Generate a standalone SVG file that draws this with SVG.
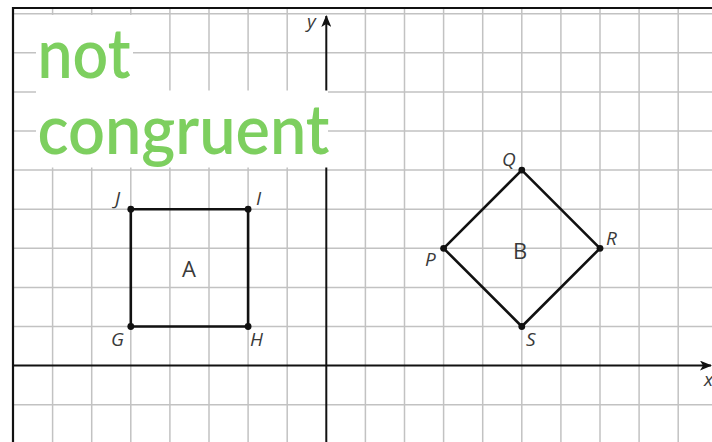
<svg xmlns="http://www.w3.org/2000/svg" width="712" height="442" viewBox="0 0 712 442">
  <style>
    .grid line { stroke: #c2c2c2; stroke-width: 1.5; }
    .axis { stroke: #111; stroke-width: 2; fill: none; }
    .shape { stroke: #111; stroke-width: 2.6; fill: none; stroke-linejoin: round; }
    .dot { fill: #111; }
    .vlabel { font-family: "Open Sans", "DejaVu Sans", sans-serif; font-style: italic; font-size: 19px; fill: #3a3a3a; }
    .flabel { font-family: "Open Sans", "DejaVu Sans", sans-serif; font-size: 22px; fill: #3a3a3a; }
    .note { font-family: Lato, "Open Sans", sans-serif; font-size: 70px; font-weight: 600; fill: #7dcf5f; }
  </style>
  <defs>
    <marker id="arrow" viewBox="0 0 12 10" refX="11" refY="5" markerWidth="12" markerHeight="10" markerUnits="userSpaceOnUse" orient="auto">
      <path d="M0,0 L12,5 L0,10 L3,5 Z" fill="#111"/>
    </marker>
  </defs>
  <rect x="0" y="0" width="712" height="442" fill="#fff"/>
  <g class="grid" id="grid">
    <line x1="52.6" y1="8" x2="52.6" y2="442"/>
    <line x1="91.7" y1="8" x2="91.7" y2="442"/>
    <line x1="130.8" y1="8" x2="130.8" y2="442"/>
    <line x1="169.9" y1="8" x2="169.9" y2="442"/>
    <line x1="209" y1="8" x2="209" y2="442"/>
    <line x1="248.1" y1="8" x2="248.1" y2="442"/>
    <line x1="287.2" y1="8" x2="287.2" y2="442"/>
    <line x1="365.4" y1="8" x2="365.4" y2="442"/>
    <line x1="404.5" y1="8" x2="404.5" y2="442"/>
    <line x1="443.6" y1="8" x2="443.6" y2="442"/>
    <line x1="482.7" y1="8" x2="482.7" y2="442"/>
    <line x1="521.8" y1="8" x2="521.8" y2="442"/>
    <line x1="560.9" y1="8" x2="560.9" y2="442"/>
    <line x1="600" y1="8" x2="600" y2="442"/>
    <line x1="639.1" y1="8" x2="639.1" y2="442"/>
    <line x1="678.2" y1="8" x2="678.2" y2="442"/>
    <line x1="13" y1="13.7" x2="712" y2="13.7"/>
    <line x1="13" y1="52.8" x2="712" y2="52.8"/>
    <line x1="13" y1="91.9" x2="712" y2="91.9"/>
    <line x1="13" y1="131" x2="712" y2="131"/>
    <line x1="13" y1="170.1" x2="712" y2="170.1"/>
    <line x1="13" y1="209.2" x2="712" y2="209.2"/>
    <line x1="13" y1="248.3" x2="712" y2="248.3"/>
    <line x1="13" y1="287.4" x2="712" y2="287.4"/>
    <line x1="13" y1="326.5" x2="712" y2="326.5"/>
    <line x1="13" y1="404.7" x2="712" y2="404.7"/>
  </g>
  <g id="frame">
    <path d="M13,442 L13,8 L712,8" fill="none" stroke="#111" stroke-width="2.2"/>
  </g>
  <g id="connectors">
    <line class="axis" x1="13" y1="365.6" x2="711" y2="365.6" marker-end="url(#arrow)"/>
    <line class="axis" x1="326.3" y1="442" x2="326.3" y2="16" marker-end="url(#arrow)"/>
  </g>
  <g id="axis-labels">
    <text class="vlabel" x="307" y="28">y</text>
    <text class="vlabel" x="704" y="386">x</text>
  </g>
  <g id="shape-A">
    <polygon class="shape" points="130.8,209.2 248.1,209.2 248.1,326.5 130.8,326.5"/>
    <circle class="dot" cx="130.8" cy="209.2" r="3.4"/>
    <circle class="dot" cx="248.1" cy="209.2" r="3.4"/>
    <circle class="dot" cx="248.1" cy="326.5" r="3.4"/>
    <circle class="dot" cx="130.8" cy="326.5" r="3.4"/>
    <text class="vlabel" x="115" y="205">J</text>
    <text class="vlabel" x="256" y="205">I</text>
    <text class="vlabel" x="111" y="346">G</text>
    <text class="vlabel" x="250" y="346">H</text>
    <text class="flabel" x="182" y="277">A</text>
  </g>
  <g id="shape-B">
    <polygon class="shape" points="521.8,170.1 600,248.3 521.8,326.5 443.6,248.3"/>
    <circle class="dot" cx="521.8" cy="170.1" r="3.4"/>
    <circle class="dot" cx="600" cy="248.3" r="3.4"/>
    <circle class="dot" cx="521.8" cy="326.5" r="3.4"/>
    <circle class="dot" cx="443.6" cy="248.3" r="3.4"/>
    <text class="vlabel" x="502" y="166">Q</text>
    <text class="vlabel" x="606" y="245">R</text>
    <text class="vlabel" x="526" y="346">S</text>
    <text class="vlabel" x="425" y="266">P</text>
    <text class="flabel" x="513" y="259">B</text>
  </g>
  <g id="note">
    <rect x="36" y="15" width="97" height="77" fill="#fff"/>
    <rect x="36" y="90.5" width="292" height="77" fill="#fff"/>
    <text class="note" x="37.5" y="78.3" textLength="93" lengthAdjust="spacingAndGlyphs">not</text>
    <text class="note" x="37.5" y="153.5" textLength="292" lengthAdjust="spacingAndGlyphs">congruent</text>
  </g>
</svg>
